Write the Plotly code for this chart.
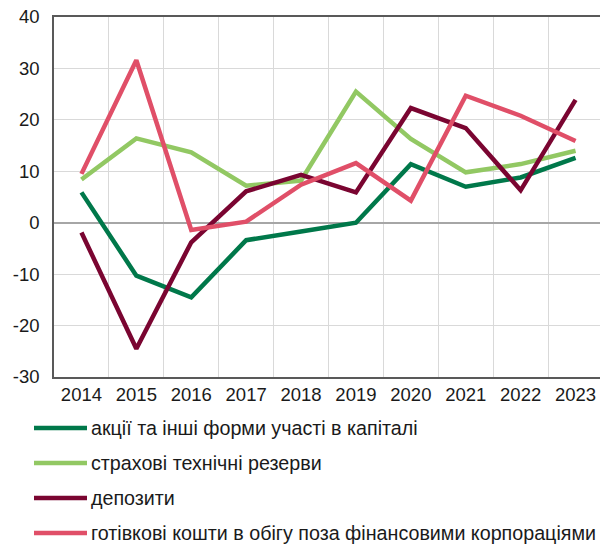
import plotly.graph_objects as go

years = ["2014", "2015", "2016", "2017", "2018", "2019", "2020", "2021", "2022", "2023"]
equity = [5.9, -10.3, -14.5, -3.4, -1.7, 0.0, 11.4, 7.0, 8.8, 12.6]
insurance = [8.4, 16.4, 13.7, 7.2, 8.2, 25.5, 16.3, 9.8, 11.4, 14.0]
deposits = [-1.9, -24.5, -3.8, 6.1, 9.3, 5.9, 22.3, 18.4, 6.3, 23.9]
cash = [9.5, 31.6, -1.4, 0.2, 7.4, 11.6, 4.3, 24.7, 20.8, 15.9]

y_ticks = [-30, -20, -10, 0, 10, 20, 30, 40]
y_tick_text = ["-30", "-20", "-10", "0", "10", "20", "30", "40"]

names = [
    "акції та інші форми участі в капіталі",
    "страхові технічні резерви",
    "депозити",
    "готівкові кошти в обігу поза фінансовими корпораціями",
]
colors = ["#00784A", "#92C863", "#7A0531", "#E04F68"]
series = [equity, insurance, deposits, cash]

fig = go.Figure()
for name, vals, col in zip(names, series, colors):
    fig.add_trace(go.Scatter(x=years, y=vals, mode="lines", name=name,
                             line=dict(color=col, width=4.5), showlegend=False))

# The page adds an 8px body margin, so work in page pixels and shift by 8.
OFF = 8
W, H = 608 - OFF, 546 - OFF
left, right, top, bottom = 54 - OFF, 603 - OFF, 17 - OFF, 377 - OFF
plot_w = right - left
plot_h = bottom - top

legend_y = [428, 463, 498, 533]
shapes = []
annotations = []
for name, col, yy in zip(names, colors, legend_y):
    ypaper = (bottom - (yy - OFF)) / plot_h
    shapes.append(dict(type="line", xref="paper", yref="paper",
                       x0=(34 - OFF - left) / plot_w, x1=(87 - OFF - left) / plot_w,
                       y0=ypaper, y1=ypaper,
                       line=dict(color=col, width=4.5)))
    annotations.append(dict(xref="paper", yref="paper", x=(89 - OFF - left) / plot_w, y=ypaper,
                            text=name, showarrow=False, xanchor="left", yanchor="middle",
                            font=dict(family="Liberation Sans, Arial", size=19.7, color="#1a1a1a")))

fig.update_layout(
    width=W, height=H,
    margin=dict(l=left, r=W - right, t=top, b=H - bottom),
    plot_bgcolor="white", paper_bgcolor="white",
    shapes=shapes, annotations=annotations,
    font=dict(family="Liberation Sans, Arial", size=18.5, color="#1a1a1a"),
    xaxis=dict(type="category", range=[-0.5, 9.5], tickson="boundaries", showgrid=True,
               gridcolor="#d9d9d9", gridwidth=1, showline=True, linecolor="#595959",
               linewidth=1.5, mirror=True, ticks="", tickfont=dict(size=18.5),
               automargin=False),
    yaxis=dict(range=[-30, 40], tickvals=y_ticks, ticktext=y_tick_text,
               showgrid=True, gridcolor="#d9d9d9", gridwidth=1,
               zeroline=True, zerolinecolor="#a6a6a6", zerolinewidth=1.5,
               showline=True, linecolor="#595959", linewidth=1.5, mirror=True,
               ticks="", tickfont=dict(size=18.5), ticklabelstandoff=9,
               ticklabeloverflow="allow", automargin=False),
)

fig.write_html("out.html")
